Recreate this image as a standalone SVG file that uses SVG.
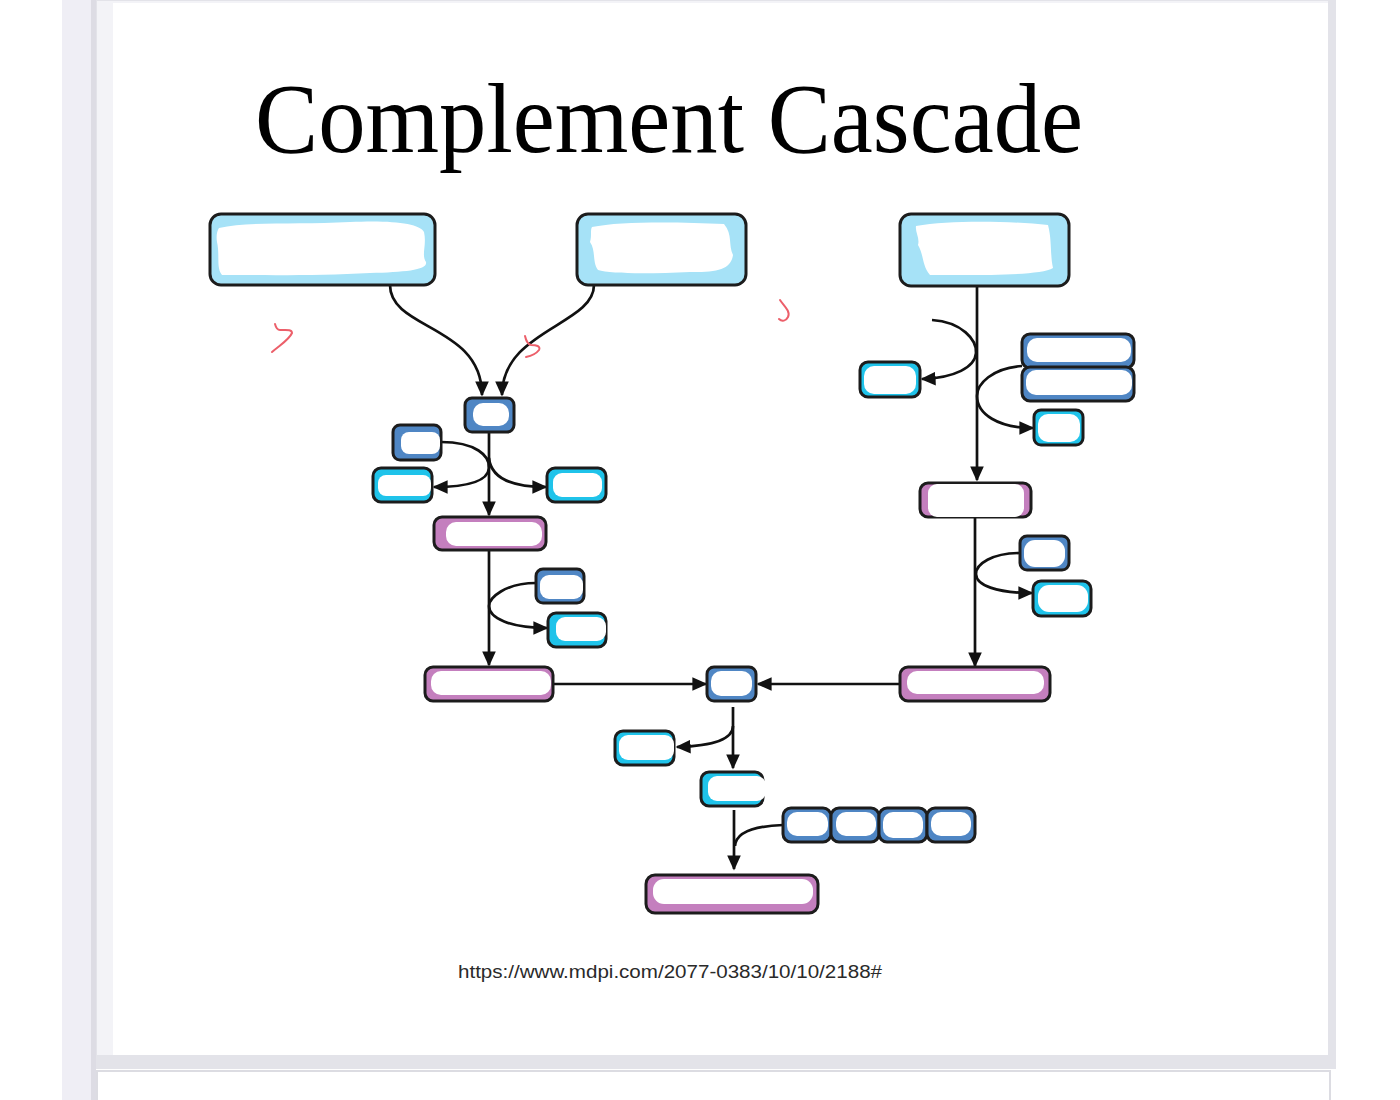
<svg xmlns="http://www.w3.org/2000/svg" width="1400" height="1100" viewBox="0 0 1400 1100">
<defs>
<marker id="ah" viewBox="0 0 10 10" refX="9" refY="5" markerWidth="5.6" markerHeight="5.6" orient="auto" markerUnits="strokeWidth">
<path d="M0,0.5 L10,5 L0,9.5 z" fill="#111"/>
</marker>
<style>
.bx{stroke:#1c1c1c;stroke-width:3}
.lb{fill:#a6e2f7}
.db{fill:#4f86c4}
.cy{fill:#1fc3ea}
.pk{fill:#c47fbe}
.in{fill:#ffffff}
.cn{fill:none;stroke:#111;stroke-width:2.7}
.ar{marker-end:url(#ah)}
.red{fill:none;stroke:#ec5f6a;stroke-width:2;stroke-linecap:round;stroke-linejoin:round}
</style>
</defs>
<rect width="1400" height="1100" fill="#ffffff"/>
<rect x="62" y="0" width="34" height="1100" fill="#efeef5"/>
<rect x="91" y="0" width="5" height="1100" fill="#dddce4"/>
<rect x="96" y="0" width="1240" height="1069" fill="#e3e3e9"/>
<rect x="97" y="1" width="1231" height="1054" fill="#f3f3f7"/>
<rect x="113" y="3" width="1215" height="1052" fill="#ffffff"/>
<rect x="97" y="1071" width="1233" height="30" fill="#ffffff" stroke="#dcdce2" stroke-width="2"/>

<text x="255" y="152" font-family="Liberation Serif, Times New Roman, serif" font-size="100" textLength="828" lengthAdjust="spacingAndGlyphs" fill="#000">Complement Cascade</text>

<g id="connectors">
<path class="cn ar" d="M390,285 C390,330 482,325 482,395"/>
<path class="cn ar" d="M594,285 C594,325 502,330 502,395"/>
<path class="cn ar" d="M489,432 L489,515"/>
<path class="cn ar" d="M441,442 C476,442 490,456 489,468 C488,481 468,487 434,487"/>
<path class="cn ar" d="M489,458 C491,478 512,487 546,487"/>
<path class="cn ar" d="M489,550 L489,665"/>
<path class="cn ar" d="M536,583 C505,583 489,598 489,606 C489,618 510,628 547,628"/>
<path class="cn ar" d="M553,684 L706,684"/>
<path class="cn ar" d="M900,684 L758,684"/>
<path class="cn ar" d="M977,286 L977,480"/>
<path class="cn ar" d="M932,320 C962,322 977,340 976,353 C975,367 955,378 922,379"/>
<path class="cn ar" d="M1022,366 C992,368 977,384 977,396 C977,414 998,428 1033,428"/>
<path class="cn ar" d="M975,517 L975,666"/>
<path class="cn ar" d="M1020,553 C992,553 976,564 976,574 C976,585 996,593 1032,593"/>
<path class="cn ar" d="M733,707 L733,768"/>
<path class="cn ar" d="M733,726 C733,740 712,746 677,747"/>
<path class="cn ar" d="M734,810 L734,869"/>
<path class="cn" d="M783,825 C755,826 736,832 735,846"/>
</g>

<g id="n-top1"><rect class="bx lb" x="210" y="214" width="225" height="71" rx="11"/><path class="in" d="M219,228 C250,221 300,225 350,222 C390,220 420,223 424,232 C427,245 421,255 426,262 C428,270 405,272 370,273 C320,276 260,275 222,275 C216,268 220,255 217,242 C216,236 217,231 219,228 z"/></g>
<g id="n-top2"><rect class="bx lb" x="577" y="214" width="169" height="71" rx="11"/><path class="in" d="M592,227 C620,221 680,222 724,224 C733,235 728,245 733,255 C731,268 720,273 690,272 C650,274 610,274 598,270 C592,262 596,250 590,242 C592,235 590,230 592,227 z"/></g>
<g id="n-top3"><rect class="bx lb" x="900" y="214" width="169" height="72" rx="11"/><path class="in" d="M916,226 C950,220 1010,221 1048,225 C1052,240 1050,255 1053,268 C1040,276 980,275 930,275 C922,266 924,255 918,245 C920,238 915,232 916,226 z"/></g>

<g id="n-c1"><rect class="bx db" x="465" y="398" width="49" height="34" rx="7"/><rect class="in" x="473" y="403" width="36" height="23" rx="10"/></g>
<g id="n-c2"><rect class="bx db" x="393" y="425" width="48" height="35" rx="7"/><rect class="in" x="401" y="432" width="39" height="22" rx="8"/></g>
<g id="n-c2b"><rect class="bx cy" x="373" y="468" width="59" height="34" rx="8"/><rect class="in" x="378" y="475" width="53" height="21" rx="8"/></g>
<g id="n-c2a"><rect class="bx cy" x="547" y="468" width="59" height="34" rx="8"/><rect class="in" x="553" y="473" width="49" height="24" rx="9"/></g>
<g id="n-c3conv"><rect class="bx pk" x="434" y="517" width="112" height="33" rx="8"/><rect class="in" x="446" y="522" width="96" height="24" rx="10"/></g>
<g id="n-c3"><rect class="bx db" x="536" y="569" width="48" height="34" rx="7"/><rect class="in" x="540" y="575" width="43" height="24" rx="9"/></g>
<g id="n-c3a"><rect class="bx cy" x="548" y="613" width="58" height="34" rx="8"/><rect class="in" x="556" y="617" width="50" height="24" rx="9"/></g>
<g id="n-c5conv-l"><rect class="bx pk" x="425" y="667" width="128" height="34" rx="8"/><rect class="in" x="431" y="671" width="120" height="24" rx="10"/></g>
<g id="n-c5"><rect class="bx db" x="707" y="667" width="49" height="34" rx="7"/><rect class="in" x="711" y="671" width="41" height="25" rx="10"/></g>
<g id="n-c5conv-r"><rect class="bx pk" x="900" y="667" width="150" height="34" rx="8"/><rect class="in" x="907" y="671" width="137" height="23" rx="10"/></g>

<g id="n-c3b-a"><rect class="bx cy" x="860" y="362" width="60" height="35" rx="8"/><rect class="in" x="864" y="366" width="52" height="28" rx="10"/></g>
<g id="n-fb-1"><rect class="bx db" x="1022" y="334" width="112" height="34" rx="8"/><rect class="in" x="1027" y="338" width="104" height="24" rx="10"/></g>
<g id="n-fb-2"><rect class="bx db" x="1022" y="367" width="112" height="34" rx="8"/><rect class="in" x="1026" y="370" width="106" height="25" rx="10"/></g>
<g id="n-ba"><rect class="bx cy" x="1034" y="410" width="49" height="35" rx="7"/><rect class="in" x="1038" y="414" width="42" height="28" rx="10"/></g>
<g id="n-c3conv-r"><rect class="bx pk" x="920" y="483" width="111" height="34" rx="8"/><rect class="in" x="928" y="484" width="96" height="33" rx="9"/></g>
<g id="n-c3-r"><rect class="bx db" x="1020" y="536" width="49" height="34" rx="7"/><rect class="in" x="1024" y="540" width="41" height="27" rx="11"/></g>
<g id="n-c3a-r"><rect class="bx cy" x="1033" y="581" width="58" height="35" rx="8"/><rect class="in" x="1038" y="585" width="50" height="27" rx="11"/></g>

<g id="n-c5a"><rect class="bx cy" x="615" y="731" width="59" height="34" rx="8"/><rect class="in" x="619" y="735" width="55" height="25" rx="9"/></g>
<g id="n-c5b"><rect class="bx cy" x="701" y="772" width="62" height="34" rx="8"/><rect class="in" x="708" y="776" width="58" height="25" rx="9"/></g>
<g id="n-mac">
<rect class="bx db" x="783" y="808" width="48" height="34" rx="8"/><rect class="in" x="787" y="812" width="41" height="24" rx="10"/>
<rect class="bx db" x="831" y="808" width="48" height="34" rx="8"/><rect class="in" x="836" y="812" width="40" height="24" rx="10"/>
<rect class="bx db" x="879" y="808" width="48" height="34" rx="8"/><rect class="in" x="883" y="812" width="40" height="26" rx="10"/>
<rect class="bx db" x="927" y="808" width="48" height="34" rx="8"/><rect class="in" x="931" y="812" width="40" height="24" rx="10"/>
</g>
<g id="n-mac-final"><rect class="bx pk" x="646" y="875" width="172" height="38" rx="9"/><rect class="in" x="653" y="879" width="160" height="25" rx="11"/></g>

<path class="red" d="M275,324 C276,328 277,330 280,330 C286,330 292,329 292,333 C289,340 280,345 272,352"/>
<path class="red" d="M525,336 C526,340 527,344 531,345 C536,345 541,346 539,350 C536,354 531,356 526,357"/>
<path class="red" d="M780,300 C783,305 791,311 788,317 C786,321 782,322 779,319"/>

<text x="458" y="978" font-family="Liberation Sans, Arial, sans-serif" font-size="18" textLength="424" lengthAdjust="spacingAndGlyphs" fill="#2a2a2a">https://www.mdpi.com/2077-0383/10/10/2188#</text>
</svg>
